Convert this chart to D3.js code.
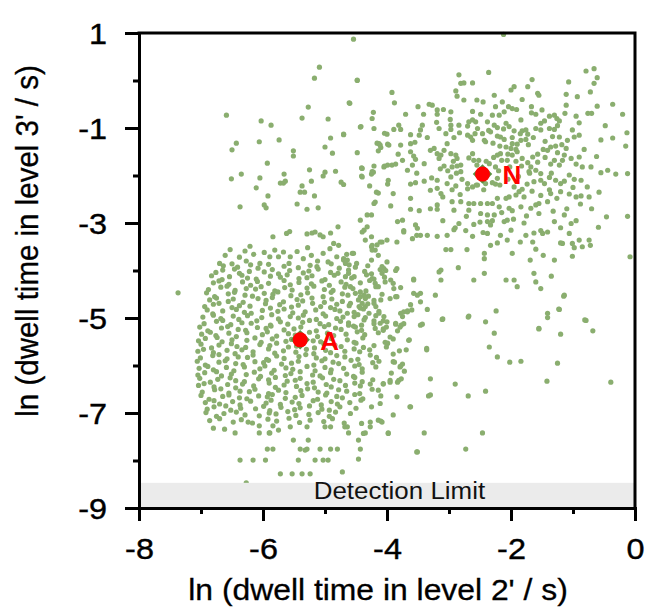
<!DOCTYPE html>
<html>
<head>
<meta charset="utf-8">
<script src="https://cdn.jsdelivr.net/npm/d3@7"></script>
<style>
  body { margin: 0; background: #fff; }
  svg text { font-family: Arial, "Liberation Sans", sans-serif; }
</style>
</head>
<body>
<div id="chart"></div>
<script>
/* dwell time scatter: ln(level 2') vs ln(level 3'), clusters A and N */

const xTicks = [-8, -6, -4, -2, 0];
const xMinor = [-7, -5, -3, -1];
const yTicks = [1, -1, -3, -5, -7, -9];
const yMinor = [0, -2, -4, -6, -8];
const detectionLimit = -8.47;
const centers = [
    { label: "A", x: -5.40, y: -5.46 },
    { label: "N", x: -2.46, y: -1.97 }
];

// cluster A (short dwell times)
const clusterA = [
 [-6.64,-3.90],[-6.50,-3.86],[-6.41,-3.93],[-6.20,-3.88],[-6.08,-3.95],[-5.91,-3.87],[-5.66,-3.91],[-5.58,-3.85],[-5.43,-3.94],[-5.24,-3.89],[-5.13,-3.92],[-4.90,-3.86],[-4.77,-3.95],[-4.61,-3.88],[-4.51,-3.93],[-4.31,-3.90],
 [-6.76,-4.04],[-6.65,-3.99],[-6.46,-3.97],[-6.38,-4.06],[-6.22,-4.02],[-5.98,-4.03],[-5.85,-3.98],[-5.75,-4.07],[-5.57,-4.00],[-5.35,-4.05],[-5.26,-4.01],[-5.11,-3.97],[-4.91,-4.04],[-4.79,-4.06],[-4.62,-3.99],[-4.36,-4.02],[-4.25,-4.07],[-4.11,-3.98],
 [-6.83,-4.11],[-6.66,-4.19],[-6.54,-4.13],[-6.34,-4.10],[-6.25,-4.16],[-6.11,-4.18],[-5.88,-4.12],[-5.72,-4.14],[-5.61,-4.09],[-5.42,-4.17],[-5.29,-4.15],[-5.21,-4.11],[-5.00,-4.19],[-4.85,-4.10],[-4.67,-4.13],[-4.57,-4.16],[-4.33,-4.09],[-4.21,-4.18],[-4.04,-4.14],
 [-6.80,-4.26],[-6.71,-4.22],[-6.55,-4.29],[-6.33,-4.24],[-6.20,-4.31],[-6.09,-4.23],[-5.91,-4.27],[-5.66,-4.21],[-5.56,-4.30],[-5.42,-4.25],[-5.22,-4.28],[-5.05,-4.22],[-4.93,-4.31],[-4.74,-4.24],[-4.66,-4.29],[-4.43,-4.26],[-4.28,-4.21],[-4.19,-4.27],[-4.03,-4.24],
 [-6.88,-4.40],[-6.68,-4.35],[-6.58,-4.33],[-6.45,-4.42],[-6.27,-4.38],[-6.12,-4.39],[-6.03,-4.34],[-5.81,-4.43],[-5.65,-4.36],[-5.53,-4.41],[-5.29,-4.37],[-5.18,-4.33],[-5.01,-4.40],[-4.87,-4.42],[-4.68,-4.35],[-4.55,-4.38],[-4.34,-4.43],[-4.14,-4.34],[-3.78,-4.36],
 [-6.91,-4.47],[-6.78,-4.55],[-6.56,-4.49],[-6.46,-4.46],[-6.29,-4.52],[-6.17,-4.54],[-5.98,-4.48],[-5.84,-4.50],[-5.76,-4.45],[-5.55,-4.53],[-5.39,-4.51],[-5.28,-4.47],[-5.03,-4.55],[-4.90,-4.46],[-4.72,-4.49],[-4.63,-4.52],[-4.43,-4.45],[-4.30,-4.54],[-4.08,-4.50],
 [-6.86,-4.62],[-6.75,-4.58],[-6.56,-4.65],[-6.48,-4.60],[-6.32,-4.67],[-6.08,-4.59],[-5.95,-4.63],[-5.85,-4.57],[-5.67,-4.66],[-5.45,-4.61],[-5.36,-4.64],[-5.21,-4.58],[-5.01,-4.67],[-4.89,-4.60],[-4.72,-4.65],[-4.46,-4.62],[-4.35,-4.57],[-4.21,-4.63],[-3.95,-4.59],
 [-6.94,-4.76],[-6.80,-4.71],[-6.71,-4.69],[-6.50,-4.78],[-6.38,-4.74],[-6.21,-4.75],[-5.96,-4.70],[-5.88,-4.79],[-5.73,-4.72],[-5.54,-4.77],[-5.43,-4.73],[-5.20,-4.69],[-5.07,-4.76],[-4.91,-4.78],[-4.81,-4.71],[-4.61,-4.74],[-4.43,-4.79],[-4.31,-4.70],[-3.62,-4.72],
 [-6.90,-4.83],[-6.81,-4.91],[-6.65,-4.85],[-6.43,-4.82],[-6.30,-4.88],[-6.19,-4.90],[-6.01,-4.84],[-5.76,-4.86],[-5.66,-4.81],[-5.52,-4.89],[-5.32,-4.87],[-5.15,-4.83],[-5.03,-4.91],[-4.84,-4.82],[-4.76,-4.85],[-4.53,-4.88],[-4.38,-4.81],[-4.29,-4.90],[-4.13,-4.86],
 [-6.97,-4.98],[-6.80,-4.94],[-6.68,-5.01],[-6.48,-4.96],[-6.39,-5.03],[-6.25,-4.95],[-6.02,-4.99],[-5.86,-4.93],[-5.75,-5.02],[-5.56,-4.97],[-5.43,-5.00],[-5.35,-4.94],[-5.14,-5.03],[-4.99,-4.96],[-4.81,-5.01],[-4.71,-4.98],[-4.47,-4.93],[-4.35,-4.99],[-4.18,-4.95],[-3.75,-4.97],
 [-6.95,-5.12],[-6.75,-5.07],[-6.65,-5.05],[-6.52,-5.14],[-6.34,-5.10],[-6.19,-5.11],[-6.10,-5.06],[-5.88,-5.15],[-5.72,-5.08],[-5.60,-5.13],[-5.36,-5.09],[-5.25,-5.05],[-5.08,-5.12],[-4.94,-5.14],[-4.75,-5.07],[-4.62,-5.10],[-4.41,-5.15],[-4.21,-5.06],[-4.11,-5.11],
 [-7.02,-5.19],[-6.89,-5.27],[-6.67,-5.21],[-6.57,-5.18],[-6.40,-5.24],[-6.28,-5.26],[-6.09,-5.20],[-5.95,-5.22],[-5.87,-5.17],[-5.66,-5.25],[-5.50,-5.23],[-5.39,-5.19],[-5.14,-5.27],[-5.01,-5.18],[-4.83,-5.21],[-4.74,-5.24],[-4.54,-5.17],[-4.41,-5.26],[-4.19,-5.22],[-3.83,-5.27],
 [-6.99,-5.34],[-6.85,-5.30],[-6.76,-5.37],[-6.55,-5.32],[-6.43,-5.39],[-6.26,-5.31],[-6.01,-5.35],[-5.93,-5.29],[-5.78,-5.38],[-5.59,-5.33],[-5.48,-5.36],[-5.25,-5.30],[-5.12,-5.39],[-4.96,-5.32],[-4.86,-5.37],[-4.66,-5.34],[-4.48,-5.29],[-4.36,-5.35],[-4.14,-5.31],
 [-7.04,-5.48],[-6.93,-5.43],[-6.74,-5.41],[-6.66,-5.50],[-6.50,-5.46],[-6.26,-5.47],[-6.13,-5.42],[-6.03,-5.51],[-5.85,-5.44],[-5.63,-5.49],[-5.54,-5.45],[-5.39,-5.41],[-5.19,-5.48],[-5.07,-5.50],[-4.90,-5.43],[-4.64,-5.46],[-4.53,-5.51],[-4.39,-5.42],[-3.90,-5.44],
 [-7.00,-5.55],[-6.83,-5.63],[-6.71,-5.57],[-6.51,-5.54],[-6.42,-5.60],[-6.28,-5.62],[-6.05,-5.56],[-5.89,-5.58],[-5.78,-5.53],[-5.59,-5.61],[-5.46,-5.59],[-5.38,-5.55],[-5.17,-5.63],[-5.02,-5.54],[-4.84,-5.57],[-4.74,-5.60],[-4.50,-5.53],[-4.38,-5.62],[-4.21,-5.58],
 [-7.05,-5.70],[-6.96,-5.66],[-6.80,-5.73],[-6.58,-5.68],[-6.45,-5.75],[-6.34,-5.67],[-6.16,-5.71],[-5.91,-5.65],[-5.81,-5.74],[-5.67,-5.69],[-5.47,-5.72],[-5.30,-5.66],[-5.18,-5.75],[-4.99,-5.68],[-4.91,-5.73],[-4.68,-5.70],[-4.53,-5.65],[-4.44,-5.71],[-4.28,-5.67],[-3.80,-5.69],
 [-7.01,-5.84],[-6.81,-5.79],[-6.71,-5.77],[-6.58,-5.86],[-6.40,-5.82],[-6.25,-5.83],[-6.16,-5.78],[-5.94,-5.87],[-5.78,-5.80],[-5.66,-5.85],[-5.42,-5.81],[-5.31,-5.77],[-5.14,-5.84],[-5.00,-5.86],[-4.81,-5.79],[-4.68,-5.82],[-4.47,-5.87],[-4.27,-5.78],[-4.17,-5.83],
 [-7.06,-5.91],[-6.93,-5.99],[-6.71,-5.93],[-6.61,-5.90],[-6.44,-5.96],[-6.32,-5.98],[-6.13,-5.92],[-5.99,-5.94],[-5.91,-5.89],[-5.70,-5.97],[-5.54,-5.95],[-5.43,-5.91],[-5.18,-5.99],[-5.05,-5.90],[-4.87,-5.93],[-4.78,-5.96],[-4.58,-5.89],[-4.45,-5.98],[-4.23,-5.94],[-4.13,-5.91],
 [-7.03,-6.06],[-6.89,-6.02],[-6.80,-6.09],[-6.59,-6.04],[-6.47,-6.11],[-6.30,-6.03],[-6.05,-6.07],[-5.97,-6.01],[-5.82,-6.10],[-5.63,-6.05],[-5.52,-6.08],[-5.29,-6.02],[-5.16,-6.11],[-5.00,-6.04],[-4.90,-6.09],[-4.70,-6.06],[-4.52,-6.01],[-4.40,-6.07],[-4.18,-6.03],
 [-7.05,-6.20],[-6.94,-6.15],[-6.75,-6.13],[-6.67,-6.22],[-6.51,-6.18],[-6.27,-6.19],[-6.14,-6.14],[-6.04,-6.23],[-5.86,-6.16],[-5.64,-6.21],[-5.55,-6.17],[-5.40,-6.13],[-5.20,-6.20],[-5.08,-6.22],[-4.91,-6.15],[-4.65,-6.18],[-4.54,-6.23],[-4.40,-6.14],[-3.93,-6.16],
 [-7.02,-6.27],[-6.85,-6.35],[-6.73,-6.29],[-6.53,-6.26],[-6.44,-6.32],[-6.30,-6.34],[-6.07,-6.28],[-5.91,-6.30],[-5.80,-6.25],[-5.61,-6.33],[-5.48,-6.31],[-5.40,-6.27],[-5.19,-6.35],[-5.04,-6.26],[-4.86,-6.29],[-4.76,-6.32],[-4.52,-6.25],[-4.40,-6.34],[-4.23,-6.30],
 [-7.04,-6.42],[-6.95,-6.38],[-6.79,-6.45],[-6.57,-6.40],[-6.44,-6.47],[-6.33,-6.39],[-6.15,-6.43],[-5.90,-6.37],[-5.80,-6.46],[-5.66,-6.41],[-5.46,-6.44],[-5.29,-6.38],[-5.17,-6.47],[-4.98,-6.40],[-4.90,-6.45],[-4.67,-6.42],[-4.52,-6.37],[-4.43,-6.43],[-4.27,-6.39],
 [-6.98,-6.56],[-6.78,-6.51],[-6.68,-6.49],[-6.55,-6.58],[-6.37,-6.54],[-6.22,-6.55],[-6.13,-6.50],[-5.91,-6.59],[-5.75,-6.52],[-5.63,-6.57],[-5.39,-6.53],[-5.28,-6.49],[-5.11,-6.56],[-4.97,-6.58],[-4.78,-6.51],[-4.65,-6.54],[-4.44,-6.59],[-4.24,-6.50],
 [-7.00,-6.63],[-6.87,-6.71],[-6.65,-6.65],[-6.55,-6.62],[-6.38,-6.68],[-6.26,-6.70],[-6.07,-6.64],[-5.93,-6.66],[-5.85,-6.61],[-5.64,-6.69],[-5.48,-6.67],[-5.37,-6.63],[-5.12,-6.71],[-4.99,-6.62],[-4.81,-6.65],[-4.72,-6.68],[-4.52,-6.61],[-4.39,-6.70],
 [-6.93,-6.78],[-6.79,-6.74],[-6.70,-6.81],[-6.49,-6.76],[-6.37,-6.83],[-6.20,-6.75],[-5.95,-6.79],[-5.87,-6.73],[-5.72,-6.82],[-5.53,-6.77],[-5.42,-6.80],[-5.19,-6.74],[-5.06,-6.83],[-4.90,-6.76],[-4.80,-6.81],[-4.60,-6.78],[-4.42,-6.73],
 [-6.90,-6.92],[-6.79,-6.87],[-6.60,-6.85],[-6.52,-6.94],[-6.36,-6.90],[-6.12,-6.91],[-5.99,-6.86],[-5.89,-6.95],[-5.71,-6.88],[-5.49,-6.93],[-5.40,-6.89],[-5.25,-6.85],[-5.05,-6.92],[-4.93,-6.94],[-4.76,-6.87],[-4.50,-6.90],
 [-6.92,-6.99],[-6.75,-7.07],[-6.63,-7.01],[-6.43,-6.98],[-6.29,-7.04],[-6.06,-7.06],[-5.90,-7.00],[-5.79,-7.02],[-5.60,-6.97],[-5.47,-7.05],[-5.26,-7.03],[-5.11,-6.99],[-4.93,-7.07],[-4.83,-6.98],[-4.59,-7.01],
 [-6.86,-7.16],[-6.70,-7.12],[-6.48,-7.19],[-6.35,-7.14],[-6.17,-7.21],[-5.92,-7.13],[-5.78,-7.17],[-5.58,-7.11],[-5.41,-7.20],[-5.24,-7.15],[-5.02,-7.18],[-4.88,-7.12],[-4.69,-7.21],
 [-6.06,-7.27],[-6.06,-7.42],[-5.90,-7.42],[-5.75,-7.36],[-5.84,-7.27],[-6.45,-7.42],[-5.56,-7.29],[-5.29,-7.29],[-5.00,-7.29],[-4.91,-7.29],[-4.64,-7.29],[-4.27,-7.29],[-4.14,-7.15],[-4.62,-7.42],[-4.35,-7.42],[-6.80,-7.32],[-6.62,-7.34],[-6.24,-7.19],[-5.89,-7.42],[-4.68,-7.29],[-4.38,-7.43],
 [-5.51,-7.57],[-5.27,-7.57],[-5.93,-7.76],[-5.84,-7.76],[-5.40,-7.76],[-5.29,-7.76],[-5.08,-7.76],[-4.91,-7.76],[-4.80,-7.76],[-4.43,-7.76],[-5.32,-7.78],
 [-6.37,-7.99],[-6.16,-7.99],[-5.96,-7.99],[-5.43,-7.99],[-5.16,-7.99],[-5.03,-7.99],[-4.95,-7.99],[-4.46,-7.97],
 [-5.72,-8.28],[-5.53,-8.28],[-5.37,-8.28],[-5.24,-8.28],[-4.72,-8.24],[-6.27,-8.47],[-5.75,-8.54],
 [-6.53,-3.56],[-6.21,-3.49],[-6.29,-3.59],[-5.81,-3.57],[-5.67,-3.61],[-5.75,-3.71],[-5.56,-3.71],[-5.03,-3.64],[-4.92,-3.54],[-4.81,-3.71],[-4.70,-3.78],[-4.65,-3.66],[-4.54,-3.64],[-4.49,-3.85],[-4.25,-3.50],[-4.19,-3.57],[-4.14,-3.68],[-4.25,-3.78],[-4.08,-3.92],[-4.00,-3.82],[-3.84,-3.96],[-6.61,-3.68],[-6.70,-3.85],[-5.89,-3.71],[-6.05,-3.85],
 [-6.38,-3.72],[-6.15,-3.66],[-5.35,-3.75],[-5.22,-3.68],[-5.45,-3.60],[-4.95,-3.82],[-5.12,-3.80],[-6.27,-3.80],[-5.98,-3.62],[-5.28,-3.52],
 [-4.70,-3.75],[-4.64,-3.78],[-4.67,-3.85],[-4.56,-3.64],[-4.62,-4.06],[-4.53,-4.13],[-4.59,-4.34],[-4.51,-4.48],[-4.43,-4.55],[-4.37,-4.52],[-4.35,-4.59],[-4.40,-4.69],[-4.45,-4.76],[-4.35,-4.76],[-4.59,-4.69],[-4.64,-4.90],[-4.53,-4.97],[-4.62,-5.15],[-4.51,-5.19],[-4.37,-5.04],[-4.21,-4.69],[-4.18,-4.76],[-4.24,-4.17],[-4.18,-4.34],[-4.05,-3.96],[-4.02,-4.00],[-4.08,-4.06],[-3.94,-4.20],[-3.86,-4.00],[-3.89,-4.38],[-3.86,-4.55],[-4.10,-4.62],[-4.05,-4.97],[-4.00,-5.08],[-4.21,-5.12],[-4.13,-4.90],
 [-3.90,-4.27],[-3.57,-4.20],[-3.46,-4.48],[-3.84,-4.55],[-3.73,-4.87],[-3.60,-4.83],[-3.46,-5.15],[-3.36,-5.64],[-3.65,-5.47],[-3.79,-5.19],[-4.06,-5.26],[-3.95,-5.40],[-4.00,-5.54],[-3.90,-5.92],[-3.79,-6.03],[-3.95,-6.31],[-3.81,-6.31],[-4.06,-6.38],[-4.14,-6.52],[-3.84,-6.66],[-4.11,-6.80],[-4.25,-6.87],[-4.41,-7.22],[-4.27,-7.19],[-4.08,-7.19],[-3.98,-7.43],[-3.63,-6.87],[-3.52,-7.82],[-3.30,-6.62],[-4.46,-7.57],
 [-7.37,-4.47]
];

// cluster N (long dwell times) and the sparse points below and right of it
const clusterN = [
 [-4.48,-0.00],[-2.36,0.17],[-2.84,0.12],[-2.81,-0.06],[-2.76,-0.05],[-2.62,-0.05],[-3.92,-0.25],[-3.88,-0.47],[-4.60,-0.48],[-2.89,-0.22],[-2.87,-0.33],[-2.76,-0.41],[-2.55,-0.41],[-2.27,-0.31],[-2.14,-0.45],[-2.00,-0.20],[-1.95,-0.13],[-1.98,-0.59],[-1.91,-0.61],[-1.73,-0.13],[-1.66,0.02],[-1.57,-0.27],[-1.55,-0.31],[-1.67,-0.55],[-1.07,-0.03],[-1.11,-0.29],[-1.11,-0.52],[-0.93,-0.34],[-0.79,0.20],[-0.66,0.25],[-0.61,0.06],[-0.66,-0.06],[-0.72,-0.24],[-0.36,-0.50],[-0.61,-0.54],[-0.76,-0.69],[-0.70,-0.69],[-0.20,-0.71],[-0.13,-1.10],[-0.15,-1.38],[-0.36,-1.21],[-0.12,-1.96],[-0.31,-1.97],[-0.44,-1.89],[-0.55,-1.94],[-0.12,-2.86],[-0.46,-2.87],[-0.59,-3.09],[-0.08,-3.71],[-0.74,-3.36],[-0.72,-3.47],[-0.90,-3.36],[-0.85,-3.50],[-0.98,-3.52],[-1.01,-3.70],[-1.14,-4.52],[-1.22,-4.82],[-1.41,-4.90],[-1.41,-4.99],[-0.79,-5.05],[-1.55,-5.22],[-1.95,-4.20],[-1.90,-4.34],[-2.08,-4.20],[-1.63,-4.06],[-1.60,-4.24],[-1.52,-4.38],[-1.35,-4.12],[-1.98,-3.64],[-1.69,-3.78],[-1.48,-3.68],[-1.30,-3.78],[-1.17,-3.43],[-1.01,-3.43],[-2.06,-3.36],[-2.22,-3.42],[-2.43,-3.64],[-2.43,-3.75],[-2.43,-4.06],[-2.60,-4.20],[-2.24,-4.85],[-2.41,-5.08],[-2.68,-4.96],[-2.85,-3.94],[-2.71,-3.56],[-2.97,-3.56],[-3.05,-3.56],[-3.13,-3.99],[-3.13,-4.20],[-3.16,-4.03],[-3.22,-4.52],[-3.57,-4.18],[-3.57,-4.48],[-3.51,-4.52],[-3.46,-4.66],[-3.35,-4.82],[-3.67,-4.87],[-3.78,-4.90],[-3.11,-5.03],[-3.43,-5.13],[-3.73,-5.12],[-3.86,-5.13],
 [-3.32,-0.50],[-3.27,-0.52],[-3.19,-0.62],[-3.09,-0.61],[-2.97,-0.66],[-3.19,-0.71],[-3.41,-0.71],[-3.70,-0.71],[-4.22,-0.67],[-4.24,-0.80],[-4.21,-1.01],[-4.42,-0.97],[-4.70,-1.14],
 [-2.68,-0.87],[-2.62,-0.83],[-2.57,-0.87],[-2.49,-0.71],[-2.38,-0.87],[-2.30,-0.73],[-2.19,-0.73],[-2.11,-0.66],[-2.04,-0.55],[-1.84,-0.83],[-1.82,-1.06],[-1.76,-1.04],[-1.95,-1.06],[-2.03,-0.97],[-2.08,-0.90],
 [-1.67,-0.68],[-1.60,-0.71],[-1.52,-0.90],[-1.46,-0.85],[-1.38,-0.75],[-1.30,-0.73],[-1.26,-0.80],[-1.22,-0.85],[-1.13,-0.69],[-0.90,-0.89],[-1.01,-1.04],
 [-0.98,-1.19],[-0.90,-1.15],[-1.09,-1.26],[-1.22,-1.19],[-1.30,-1.03],[-1.38,-1.01],[-1.52,-1.04],[-1.60,-1.01],[-1.73,-1.13],[-1.76,-1.24],[-1.84,-1.26],
 [-2.97,-0.94],[-2.97,-1.03],[-2.84,-0.94],[-2.70,-0.96],[-2.70,-1.15],[-2.65,-1.19],[-2.62,-1.26],[-2.43,-1.26],[-2.41,-1.29],[-2.22,-1.17],[-2.17,-1.19],[-2.11,-1.24],[-2.08,-1.40],[-2.00,-1.43],[-1.98,-1.33],[-1.92,-1.45],[-1.90,-1.34],
 [-2.27,-0.94],[-2.22,-0.99],[-2.33,-1.08],[-2.54,-1.01],[-2.46,-1.12],
 [-3.16,-1.01],[-3.43,-0.94],[-3.46,-1.04],[-3.62,-1.14],[-3.78,-1.03],[-3.81,-0.94],[-3.89,-1.03],[-4.00,-1.13],[-3.97,-1.36],[-4.13,-1.33],[-4.10,-1.41],[-3.78,-1.36],[-3.62,-1.33],[-3.48,-1.15],
 [-3.30,-1.47],[-3.24,-1.43],[-3.19,-1.54],[-3.16,-1.64],[-3.13,-1.57],[-3.08,-1.47],[-3.03,-1.33],[-2.97,-1.54],[-2.89,-1.57],[-2.87,-1.64],[-2.81,-1.78],[-2.95,-1.82],[-3.08,-1.80],[-3.14,-1.86],
 [-3.57,-1.59],[-3.54,-1.66],[-3.59,-1.78],[-3.75,-1.68],[-3.92,-1.78],[-3.86,-1.76],[-4.05,-1.82],[-4.21,-1.80],[-4.24,-1.92],[-4.40,-1.85],[-4.48,-1.52],[-4.40,-2.03],[-4.70,-2.19],
 [-3.67,-1.89],[-3.62,-2.18],[-3.54,-2.15],[-3.40,-2.12],[-3.30,-2.31],[-3.19,-2.27],[-3.13,-2.38],[-3.19,-2.10],
 [-2.97,-2.03],[-3.03,-2.17],[-2.89,-2.22],[-2.87,-1.80],[-2.81,-1.92],[-2.70,-2.17],[-2.62,-2.24],[-2.54,-2.20],[-2.41,-2.17],[-2.25,-2.18],[-2.22,-2.06],
 [-2.62,-1.54],[-2.60,-1.68],[-2.52,-1.68],[-2.35,-1.75],[-2.25,-1.82],[-2.22,-1.57],[-2.17,-1.54],
 [-2.06,-1.68],[-1.98,-1.57],[-1.82,-1.64],[-1.73,-1.73],[-1.65,-1.61],[-1.57,-1.55],[-1.68,-1.82],[-1.71,-1.92],[-1.60,-1.89],[-1.52,-1.96],[-1.52,-2.10],[-1.63,-2.13],[-1.46,-2.17],[-1.36,-1.76],[-1.30,-1.68],[-1.22,-1.78],[-1.17,-1.68],[-1.14,-1.57],[-1.03,-1.64],
 [-1.41,-1.47],[-1.36,-1.40],[-1.28,-1.38],[-1.11,-1.43],[-0.90,-1.61],[-0.95,-1.76],[-0.85,-1.82],[-0.71,-1.82],[-0.77,-2.24],[-0.74,-2.45],[-0.87,-2.43],[-0.95,-2.45],
 [-1.38,-2.04],[-1.28,-2.10],[-1.20,-2.17],[-1.06,-1.99],[-0.98,-2.08],[-0.87,-2.10],[-1.06,-2.39],[-1.20,-2.34],[-1.36,-2.38],[-1.41,-2.55],
 [-1.95,-2.24],[-1.92,-2.41],[-1.87,-2.34],[-1.82,-2.29],[-1.79,-2.45],[-2.03,-2.45],[-2.08,-2.48],[-2.22,-2.48],[-2.30,-2.59],[-2.38,-2.59],[-2.49,-2.59],[-2.60,-2.59],[-2.68,-2.59],
 [-2.92,-2.73],[-2.81,-2.55],[-2.68,-2.73],[-2.49,-2.80],[-2.38,-2.83],[-2.27,-2.83],[-2.19,-2.66],[-2.03,-2.69],[-1.98,-2.74],[-1.84,-2.66],[-1.68,-2.69],[-1.55,-2.59],[-1.55,-2.80],
 [-3.19,-2.62],[-3.19,-2.71],[-3.48,-2.74],[-3.62,-2.71],[-3.94,-2.64],[-4.21,-2.59],[-4.32,-2.83],[-4.25,-2.83],[-4.43,-2.94],
 [-3.75,-2.94],[-3.54,-3.04],[-3.51,-3.11],[-3.73,-3.16],[-3.59,-3.33],[-3.46,-3.26],[-3.35,-3.26],[-3.19,-3.28],[-3.03,-3.26],[-2.92,-3.14],[-2.84,-3.01],[-2.73,-3.16],[-2.60,-3.03],
 [-2.38,-2.97],[-2.33,-3.04],[-2.38,-3.22],[-2.33,-3.47],[-2.11,-2.97],[-2.06,-2.94],[-1.79,-3.00],[-1.76,-3.26],[-1.63,-3.21],[-1.52,-3.16],[-1.49,-3.22],[-1.41,-3.19],[-1.30,-2.97],[-1.14,-2.83],[-1.03,-3.01],[-1.06,-3.22],[-1.20,-3.42],[-2.17,-3.26],[-1.65,-3.40],
 [-3.83,-2.97],[-4.08,-3.40],[-4.24,-3.47],[-4.24,-3.57],[-4.35,-3.36],[-4.37,-3.15],[-4.32,-3.08],
 [-3.05,-1.12],[-2.92,-1.20],[-2.83,-1.10],[-2.58,-1.12],[-2.36,-1.05],[-2.29,-1.32],[-2.18,-1.38],[-1.85,-1.12],[-1.72,-1.35],[-1.64,-1.20],[-1.45,-1.28],[-1.33,-1.18],[-1.18,-1.35],[-1.25,-1.52],[-1.48,-1.45],[-1.57,-1.72],[-1.83,-1.80],[-1.92,-1.70],[-2.02,-1.82],[-2.15,-1.68],[-2.28,-1.62],[-2.40,-1.70],[-2.68,-1.63],[-2.93,-1.70],[-3.02,-1.90],[-2.88,-1.95],[-2.79,-2.08],[-2.95,-2.30],[-2.82,-2.40],[-2.70,-2.28],[-2.56,-2.20],[-2.44,-2.30],[-2.30,-2.15],[-2.18,-2.20],[-2.05,-2.08],[-1.88,-2.02],[-1.74,-2.18],[-1.66,-2.33],[-1.52,-2.42],[-1.38,-2.30],[-1.26,-2.48],[-1.14,-2.12],[-1.00,-2.25],[-0.88,-2.60],[-1.10,-2.70],[-1.32,-2.75],[-1.60,-2.62],[-1.75,-2.85],[-1.96,-2.92],[-2.15,-2.78],[-2.30,-2.95],[-2.50,-2.98],[-2.72,-2.86],[-2.95,-2.55],[-3.10,-2.45],[-3.28,-2.05],[-3.40,-1.75],[-3.52,-1.95],[-3.35,-1.20],[-3.55,-1.30],[-3.62,-1.50],[-3.82,-1.55],[-3.98,-2.10],[-3.90,-2.38],[-3.62,-2.48],[-3.30,-2.70],[-3.10,-2.95],[-2.90,-3.10],[-2.62,-3.28],[-2.45,-3.20],[-2.00,-3.15],[-1.85,-3.40],[-1.60,-3.55],[-1.20,-3.10],[-0.95,-2.95],[-0.70,-2.70],[-0.58,-2.35],[-0.62,-1.60],[-0.82,-1.45],[-0.55,-1.25],[-0.48,-0.95],[-0.95,-0.75],[-1.25,-0.95],[-1.50,-0.62],[-1.82,-0.40],[-2.25,-0.55],[-2.45,-0.45],[-2.62,-0.65],[-2.98,-0.82],[-3.20,-0.88],[-3.50,-0.55],[-2.12,-1.02],[-1.98,-1.20],[-2.55,-1.78],[-2.20,-1.90],[-1.70,-1.95],[-1.35,-1.95],[-1.45,-1.62],[-1.90,-1.50],[-2.05,-1.55],
 [-1.55,-5.23],[-1.20,-5.34],[-0.81,-5.04],[-0.68,-5.27],[-2.27,-5.32],[-2.35,-5.61],[-2.22,-5.82],[-2.69,-4.98],[-3.10,-5.02],[-3.64,-5.46],[-3.36,-5.67],[-3.69,-5.67],[-3.90,-5.76],[-4.01,-5.61],[-3.99,-5.53],[-4.03,-5.51],[-3.86,-5.11],[-3.77,-5.15],[-4.06,-5.23],[-4.01,-5.19],[-4.06,-5.06],[-3.67,-4.85],[-1.23,-4.81],[-1.15,-4.54],
 [-2.02,-5.93],[-1.84,-5.91],[-1.25,-5.95],[-1.42,-6.33],[-0.39,-6.35],[-3.30,-6.28],[-2.90,-6.39],[-2.69,-6.64],[-2.41,-6.54],[-3.33,-6.64],[-3.62,-6.87],[-3.90,-7.04],[-3.98,-7.42],[-3.40,-7.42],[-2.46,-7.42],[-3.51,-7.82],[-2.73,-7.76],
 [-3.88,-5.93],[-3.75,-5.97],[-3.78,-6.01],[-3.72,-6.12],[-3.77,-6.28],[-3.83,-6.35],[-3.95,-6.35],[-4.06,-6.39],[-4.10,-6.64],[-4.10,-7.17],
 [-2.12,0.97]
];

// sparse points in the upper left, between the two clusters
const spread = [
 [-4.54,0.87],[-5.09,0.28],[-5.17,0.05],[-4.48,0.01],[-6.59,-0.73],[-4.61,-0.47],[-5.27,-0.56],[-5.37,-0.79],[-4.95,-0.81],[-6.03,-0.85],[-5.87,-0.94],[-4.43,-0.98],[-4.70,-1.13],[-4.04,-1.11],[-4.16,-1.32],[-4.11,-1.36],[-3.99,-1.34],[-6.43,-1.32],[-6.50,-1.46],[-6.06,-1.29],[-5.74,-1.25],[-5.51,-1.48],[-5.51,-1.59],[-5.00,-1.40],[-4.91,-1.21],[-4.88,-1.53],[-4.14,-1.48],[-5.93,-1.74],[-6.51,-2.07],[-6.35,-1.97],[-6.05,-2.05],[-5.66,-1.97],[-5.72,-2.16],[-5.67,-2.16],[-5.64,-2.12],[-6.11,-2.26],[-5.92,-2.43],[-6.37,-2.66],[-5.98,-2.62],[-5.95,-2.68],[-5.37,-2.22],[-5.40,-2.35],[-5.33,-2.35],[-5.45,-2.60],[-5.25,-1.88],[-5.22,-2.12],[-5.29,-2.71],[-5.11,-2.68],[-5.17,-2.43],[-5.00,-1.93],[-5.03,-2.01],[-4.83,-1.91],[-4.74,-2.14],[-4.41,-1.84],[-4.41,-2.01],[-4.28,-2.22],[-4.25,-1.97],[-4.22,-1.93],[-4.17,-2.35],[-4.14,-2.37],[-4.04,-1.80],[-3.99,-1.78],[-3.99,-2.18],[-4.19,-2.56],
 [-5.62,-3.22],[-5.57,-3.18],[-5.29,-3.23],[-5.21,-3.21],[-5.16,-3.19],[-5.08,-3.25],[-5.03,-3.29],[-4.91,-3.21],[-4.79,-3.08],[-4.40,-3.19],[-4.16,-3.46],[-4.11,-3.40],[-5.84,-3.29],
 [-4.25,-3.29],[-3.73,-3.19],[-3.52,-3.26],[-3.84,-3.40],[-4.00,-3.36],[-4.86,-3.43],[-4.78,-3.47]
];

const points = clusterA.concat(clusterN, spread);

const width = 648,
      height = 610,
      margin = { top: 33, right: 13, bottom: 102, left: 139 };

const hs = 1.08; // the original figure is stretched a little sideways
const font = "Arial, 'Liberation Sans', sans-serif";

let svg = d3.select("#chart")
    .append("svg")
    .attr("width", width)
    .attr("height", height);

let x = d3.scaleLinear()
    .domain([-8, 0])
    .range([margin.left, width - margin.right]);

let y = d3.scaleLinear()
    .domain([-9, 1])
    .range([height - margin.bottom, margin.top]);

// scatter
svg.append("g")
    .selectAll("circle")
    .data(points)
    .join("circle")
    .attr("cx", d => x(d[0]))
    .attr("cy", d => y(d[1]))
    .attr("r", 2.6)
    .attr("fill", "#8aae6f");

// detection limit band sits on top of the points
svg.append("rect")
    .attr("x", x(-8))
    .attr("y", y(detectionLimit))
    .attr("width", x(0) - x(-8))
    .attr("height", y(-9) - y(detectionLimit))
    .attr("fill", "#ebebeb");

svg.append("text")
    .attr("transform", `translate(${x(-3.8)},${y(-9) - 9}) scale(${hs},1)`)
    .attr("text-anchor", "middle")
    .attr("font-size", 24)
    .attr("fill", "#111")
    .text("Detection Limit");

// cluster centres
let ctr = svg.selectAll(".ctr")
    .data(centers)
    .join("g")
    .attr("class", "ctr")
    .attr("transform", d => `translate(${x(d.x)},${y(d.y)})`);

ctr.append("path")
    .attr("d", d3.symbol(d3.symbolSquare, 190))
    .attr("transform", "rotate(45)")
    .attr("fill", "#5a9040");

ctr.append("circle")
    .attr("r", 7.5)
    .attr("fill", "#ff0000");

ctr.append("text")
    .attr("x", 20)
    .attr("y", 10)
    .attr("font-size", 26)
    .attr("font-weight", "bold")
    .attr("fill", "#ff0000")
    .text(d => d.label);

// frame (top and right)
svg.append("path")
    .attr("d", `M${x(-8)},${y(1)}H${x(0)}V${y(-9)}`)
    .attr("fill", "none")
    .attr("stroke", "#000")
    .attr("stroke-width", 3)
    .attr("stroke-linecap", "square");

// axes
const xAxis = g => g
    .attr("transform", `translate(0,${y(-9)})`)
    .call(d3.axisBottom(x).tickValues(xTicks).tickSize(13).tickSizeOuter(0).tickFormat(d => String(d)));

const xAxisMinor = g => g
    .attr("transform", `translate(0,${y(-9)})`)
    .call(d3.axisBottom(x).tickValues(xMinor).tickSize(6).tickSizeOuter(0).tickFormat(""));

const yAxis = g => g
    .attr("transform", `translate(${x(-8)},0)`)
    .call(d3.axisLeft(y).tickValues(yTicks).tickSize(14).tickSizeOuter(0).tickFormat(d => String(d)));

const yAxisMinor = g => g
    .attr("transform", `translate(${x(-8)},0)`)
    .call(d3.axisLeft(y).tickValues(yMinor).tickSize(6).tickSizeOuter(0).tickFormat(""));

let gxm = svg.append("g").call(xAxisMinor);
let gym = svg.append("g").call(yAxisMinor);
gxm.select(".domain").remove();
gym.select(".domain").remove();

let gx = svg.append("g").call(xAxis);
let gy = svg.append("g").call(yAxis);

svg.selectAll(".domain")
    .attr("stroke-width", 3)
    .attr("stroke-linecap", "square");
svg.selectAll(".tick line")
    .attr("stroke-width", 3);

gx.selectAll(".tick text")
    .attr("y", 0)
    .attr("dy", null)
    .attr("transform", `translate(0,51) scale(${hs},1)`)
    .attr("font-size", 30)
    .attr("font-family", font)
    .attr("fill", "#000")
    .attr("stroke", "#000")
    .attr("stroke-width", 0.4);

gy.selectAll(".tick text")
    .attr("x", 0)
    .attr("dy", "0.35em")
    .attr("transform", `translate(-32,0) scale(${hs},1)`)
    .attr("font-size", 30)
    .attr("font-family", font)
    .attr("fill", "#000")
    .attr("stroke", "#000")
    .attr("stroke-width", 0.4);

// axis titles
svg.append("text")
    .attr("transform", `translate(378,600) scale(${hs},1)`)
    .attr("text-anchor", "middle")
    .attr("font-size", 29.5)
    .attr("stroke", "#000")
    .attr("stroke-width", 0.3)
    .text("ln (dwell time in level 2' / s)");

svg.append("text")
    .attr("transform", `translate(38,241) scale(${hs},1) rotate(-90)`)
    .attr("text-anchor", "middle")
    .attr("font-size", 29.5)
    .attr("stroke", "#000")
    .attr("stroke-width", 0.3)
    .text("ln (dwell time in level 3' / s)");
</script>
</body>
</html>
